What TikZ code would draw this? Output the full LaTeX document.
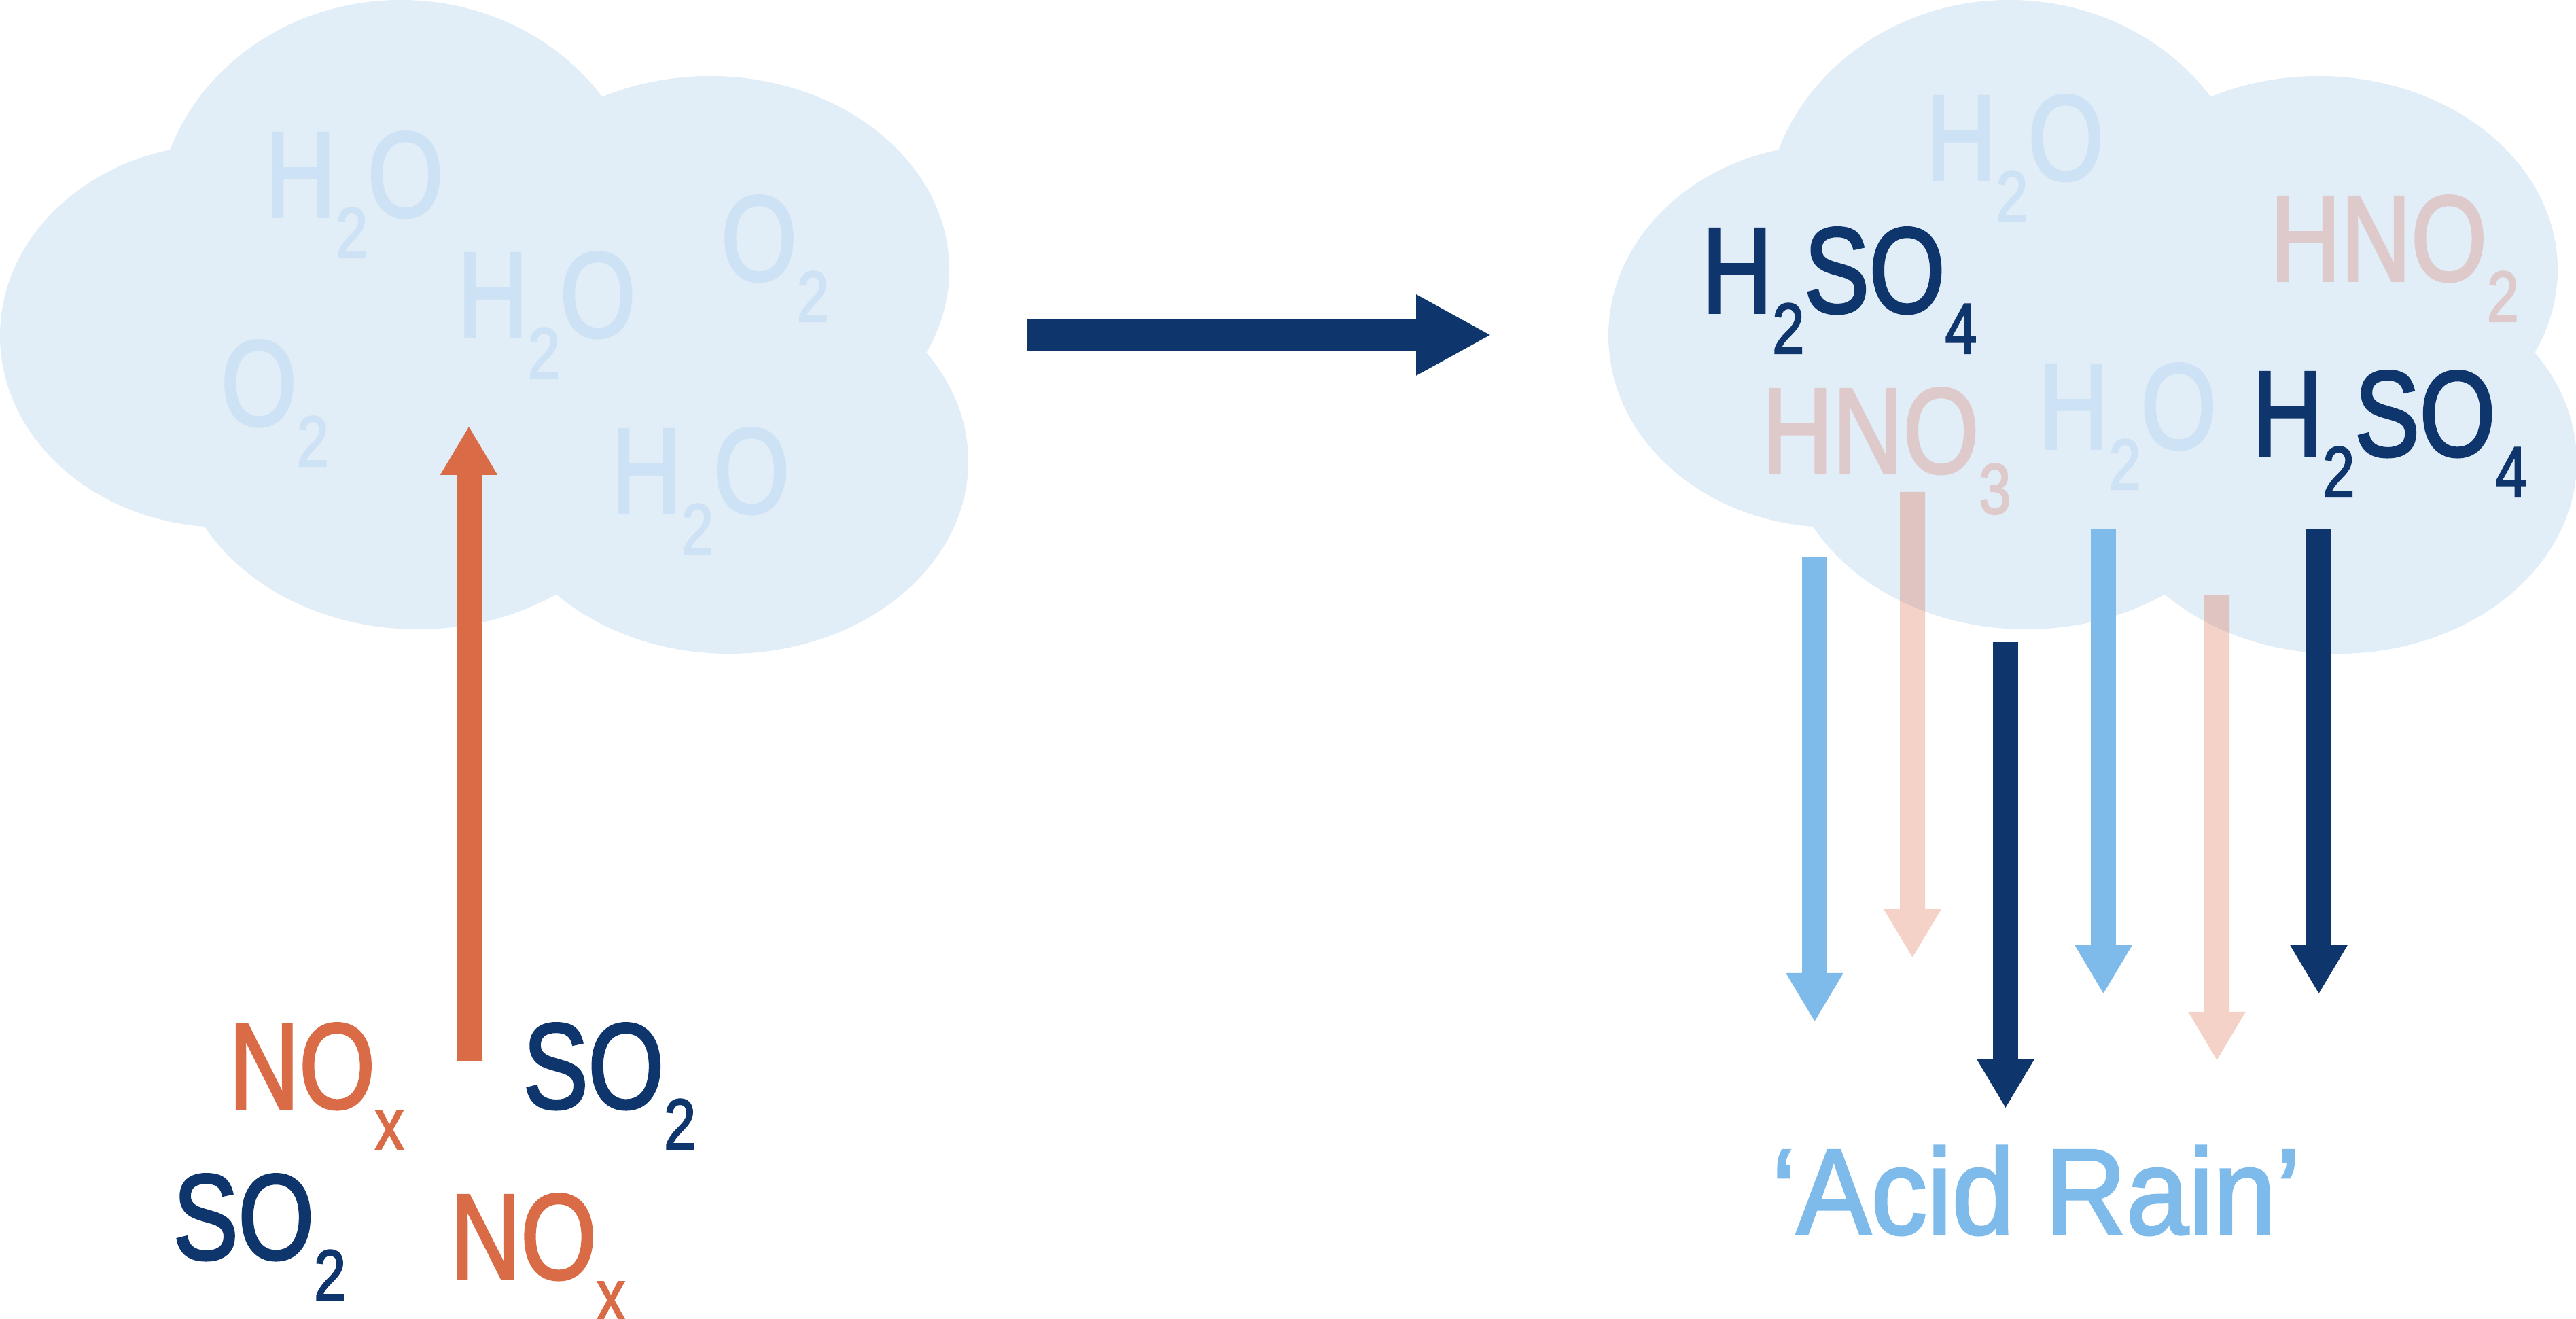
\documentclass[tikz,border=0pt]{standalone}
\usepackage{fontspec}
\newfontfamily\formfont[FakeStretch=0.8, FakeBold=2]{Liberation Sans}
\newfontfamily\rainfont[FakeStretch=0.92, FakeBold=2]{Liberation Sans}
\usetikzlibrary{arrows.meta}
\definecolor{cloudblue}{HTML}{E1EDF7}
\definecolor{mistblue}{HTML}{CDE2F4}
\definecolor{navy}{HTML}{0E356C}
\definecolor{rust}{HTML}{D96B47}
\definecolor{rainblue}{HTML}{7EBAEA}
\definecolor{acidpink}{HTML}{DECACA}
\newcommand{\chemsub}[1]{\raisebox{-0.6cm}{\fontsize{30}{30}\selectfont #1}}
\tikzset{
    formula/.style={inner sep=0pt, anchor=base, font=\formfont\fontsize{51}{60}\selectfont},
    puff/.style={fill=cloudblue},
    rain/.style={line width=0.37cm, -{Triangle[width=0.79cm,length=0.72cm]}},
}
\begin{document}
\begin{tikzpicture}
    \useasboundingbox (0,0) rectangle (37.91,19.41);
    % the two clouds
    \foreach \dx in {0,23.67} {
        \begin{scope}[xshift=\dx cm]
            \fill[puff] (3.30,14.47) ellipse [x radius=3.30, y radius=2.82]
                (5.90,16.11) ellipse [x radius=3.60, y radius=3.30]
                (10.45,15.44) ellipse [x radius=3.52, y radius=2.85]
                (10.73,12.62) ellipse [x radius=3.52, y radius=2.83]
                (6.15,13.01) ellipse [x radius=3.56, y radius=2.86]
                (8.00,13.91) ellipse [x radius=3.00, y radius=2.50];
        \end{scope}
    }
    % clean cloud
    \node[formula, text=mistblue] (h2oA) at (5.215,16.22) {H\chemsub{2}O};
    \node[formula, text=mistblue] (h2oB) at (8.045,14.45) {H\chemsub{2}O};
    \node[formula, text=mistblue] (o2A) at (11.405,15.28) {O\chemsub{2}};
    \node[formula, text=mistblue] (o2B) at (4.045,13.15) {O\chemsub{2}};
    \node[formula, text=mistblue] (h2oC) at (10.305,11.86) {H\chemsub{2}O};
    % acid cloud
    \node[formula, text=mistblue] (h2oT) at (29.65,16.76) {H\chemsub{2}O};
    \node[formula, text=acidpink] (hno2) at (35.24,15.28) {HNO\chemsub{2}};
    \node[formula, text=navy] (h2so4A) at (27.07,14.81) {H\chemsub{2}SO\chemsub{4}};
    \node[formula, text=acidpink] (hno3) at (27.765,12.45) {HNO\chemsub{3}};
    \node[formula, text=mistblue] (h2oM) at (31.31,12.81) {H\chemsub{2}O};
    \node[formula, text=navy] (h2so4B) at (35.17,12.70) {H\chemsub{2}SO\chemsub{4}};
    % emissions
    \node[formula, text=rust] (noxA) at (4.655,3.10) {NO\chemsub{x}};
    \node[formula, text=navy] (so2A) at (8.97,3.10) {SO\chemsub{2}};
    \node[formula, text=navy] (so2B) at (3.82,0.88) {SO\chemsub{2}};
    \node[formula, text=rust] (noxB) at (7.915,0.59) {NO\chemsub{x}};
    \node[inner sep=0pt, anchor=base, text=rainblue, font=\rainfont\fontsize{51}{60}\selectfont] (acidrain) at (29.965,1.25) {‘Acid Rain’};
    % arrows
    \coordinate (risebot) at (6.90,3.80);
    \coordinate (risetop) at (6.90,13.14);
    \coordinate (stepL) at (15.11,14.48);
    \coordinate (stepR) at (21.95,14.48);
    \draw[rain, rust] (risebot) -- (risetop);
    \draw[navy, line width=0.47cm, -{Triangle[width=1.11cm,length=1.11cm]}] (stepL) -- (stepR);
    \coordinate (lbA) at (26.705,11.22); \coordinate (lbAend) at (26.705,4.37);
    \coordinate (pkA) at (28.145,12.17); \coordinate (pkAend) at (28.145,5.31);
    \coordinate (nvA) at (29.515,9.96);  \coordinate (nvAend) at (29.515,3.10);
    \coordinate (lbB) at (30.955,11.63); \coordinate (lbBend) at (30.955,4.78);
    \coordinate (pkB) at (32.625,10.65); \coordinate (pkBend) at (32.625,3.80);
    \coordinate (nvB) at (34.125,11.63); \coordinate (nvBend) at (34.125,4.78);
    \draw[rain, rainblue] (lbA) -- (lbAend);
    \draw[rain, navy] (nvA) -- (nvAend);
    \draw[rain, rainblue] (lbB) -- (lbBend);
    \draw[rain, navy] (nvB) -- (nvBend);
    \begin{scope}[transparency group, opacity=0.3]
        \draw[rain, rust] (pkA) -- (pkAend);
        \draw[rain, rust] (pkB) -- (pkBend);
    \end{scope}
\end{tikzpicture}
\end{document}
